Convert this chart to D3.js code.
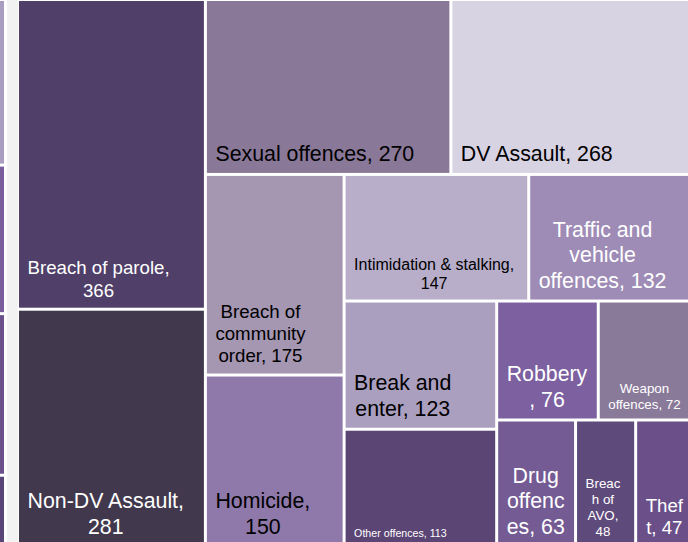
<!DOCTYPE html>
<html>
<head>
<meta charset="utf-8">
<script src="https://cdn.jsdelivr.net/npm/d3@7"></script>
<style>
  body { margin: 0; background: #fff; }
  svg { display: block; font-family: "Liberation Sans", Arial, sans-serif; }
</style>
</head>
<body>
<div id="chart"></div>
<script>
// offence categories and counts, largest first
var offences = ["Breach of parole", "Non-DV Assault", "Sexual offences", "DV Assault",
  "Breach of community order", "Homicide", "Intimidation & stalking",
  "Traffic and vehicle offences", "Break and enter", "Other offences", "Robbery",
  "Weapon offences", "Drug offences", "Breach of AVO", "Theft"];
var counts = [366, 281, 270, 268, 175, 150, 147, 132, 123, 113, 76, 72, 63, 48, 47];

// neighbouring group on the left, only a sliver of it is in view
var sideCells = ["a", "b", "c", "d"];
var sideCounts = [165, 148, 161, 73];

// styles
var fills = {
  "Breach of parole": "#503f69",
  "Non-DV Assault": "#41384d",
  "Sexual offences": "#8a7899",
  "DV Assault": "#d8d3e2",
  "Breach of community order": "#a596b2",
  "Homicide": "#8f78aa",
  "Intimidation & stalking": "#b8aeca",
  "Traffic and vehicle offences": "#9e8cb6",
  "Break and enter": "#ab9fbf",
  "Other offences": "#5b4574",
  "Robbery": "#7c60a0",
  "Weapon offences": "#8a7a9a",
  "Drug offences": "#745b94",
  "Breach of AVO": "#5f4a7c",
  "Theft": "#6b4f89"
};
var sideFills = ["#a99dc1", "#7b5e9e", "#6b518b", "#5a4578"];
var fontSizes = {
  "Breach of parole": 18.67, "Non-DV Assault": 21.33, "Sexual offences": 21.33,
  "DV Assault": 21.33, "Breach of community order": 18.67, "Homicide": 21.33,
  "Intimidation & stalking": 16, "Traffic and vehicle offences": 21.33,
  "Break and enter": 21.33, "Other offences": 10.67, "Robbery": 21.33,
  "Weapon offences": 13.33, "Drug offences": 21.33, "Breach of AVO": 13.33, "Theft": 18.67
};
var blackText = ["Sexual offences", "DV Assault", "Breach of community order", "Homicide",
  "Intimidation & stalking", "Break and enter"];

var w = 688, h = 542;

var svg = d3.select("#chart").append("svg")
  .attr("width", w)
  .attr("height", h);

// grey gutter between the two groups
svg.append("rect")
  .attr("x", 7).attr("y", 0)
  .attr("width", 11).attr("height", h)
  .attr("fill", "#f2f2f2");

// left group: one visible strip
var side = d3.hierarchy({children: sideCells.map(function(n, i) { return {name: n, value: sideCounts[i]}; })})
  .sum(function(d) { return d.value; });
d3.treemap().tile(d3.treemapSlice).size([44, 546]).paddingInner(3)(side);

svg.append("g")
  .attr("transform", "translate(-40,1)")
  .selectAll("rect")
  .data(side.leaves())
  .enter()
  .append("rect")
  .attr("x", function(d) { return d.x0; })
  .attr("y", function(d) { return d.y0; })
  .attr("width", function(d) { return d.x1 - d.x0; })
  .attr("height", function(d) { return d.y1 - d.y0; })
  .attr("fill", function(d, i) { return sideFills[i]; });

// squarified rows, the last few items share one strip along the long side
function tile(parent, x0, y0, x1, y1) {
  var nodes = parent.children, i0 = 0, rest = parent.value;
  while (i0 < nodes.length) {
    var dx = x1 - x0, dy = y1 - y0;
    if (nodes.length - i0 <= 3) {
      var last = {children: nodes.slice(i0), value: rest};
      (dx >= dy ? d3.treemapDice : d3.treemapSlice)(last, x0, y0, x1, y1);
      break;
    }
    var side = Math.min(dx, dy), unit = dx * dy / rest;
    var sum = 0, best = Infinity, i1 = i0;
    while (i1 < nodes.length) {
      var s = sum + nodes[i1].value, thick = s * unit / side, worst = 0;
      for (var k = i0; k <= i1; k++) {
        var len = nodes[k].value * unit / thick;
        worst = Math.max(worst, len / thick, thick / len);
      }
      if (worst > best) break;
      best = worst; sum = s; i1++;
    }
    var row = {children: nodes.slice(i0, i1), value: sum};
    if (dx < dy) {
      var rh = dy * sum / rest;
      d3.treemapDice(row, x0, y0, x1, y0 + rh);
      y0 += rh;
    } else {
      var rw = dx * sum / rest;
      d3.treemapSlice(row, x0, y0, x0 + rw, y1);
      x0 += rw;
    }
    rest -= sum; i0 = i1;
  }
}

var root = d3.hierarchy({children: offences.map(function(n, i) { return {name: n, value: counts[i]}; })})
  .sum(function(d) { return d.value; })
  .sort(function(a, b) { return b.value - a.value; });

d3.treemap().tile(tile).size([674, 544.5]).paddingInner(3)(root);

var main = svg.append("g").attr("transform", "translate(19,1)");

var cell = main.selectAll("g")
  .data(root.leaves())
  .enter()
  .append("g");

cell.append("rect")
  .attr("x", function(d) { return d.x0; })
  .attr("y", function(d) { return d.y0; })
  .attr("width", function(d) { return d.x1 - d.x0; })
  .attr("height", function(d) { return d.y1 - d.y0; })
  .attr("fill", function(d) { return fills[d.data.name]; });

// word wrap; words that are too long get broken between characters
var ruler = svg.append("text").attr("visibility", "hidden");
function measure(str, fs) {
  ruler.attr("font-size", fs).text(str);
  return ruler.node().getComputedTextLength();
}
function wrap(str, fs, maxW) {
  var words = str.split(" "), lines = [], line = "";
  words.forEach(function(word) {
    var test = line ? line + " " + word : word;
    if (measure(test, fs) <= maxW) { line = test; return; }
    if (line) lines.push(line);
    line = "";
    if (measure(word, fs) <= maxW) { line = word; return; }
    for (var c = 0; c < word.length; c++) {
      var t = line + word[c];
      if (measure(t, fs) <= maxW || !line) line = t;
      else { lines.push(line); line = word[c]; }
    }
  });
  if (line) lines.push(line);
  return lines;
}

cell.each(function(d) {
  var name = d.data.name, fs = fontSizes[name];
  var lines = wrap(name + ", " + d.data.value, fs, d.x1 - d.x0 - 16);
  var widths = lines.map(function(l) { return measure(l, fs); });
  var cx = d.x0 + 8.5 + d3.max(widths) / 2;
  var lh = fs * 1.2;
  var base = d.y1 - 6 - fs * 0.27;
  d3.select(this).selectAll("text")
    .data(lines)
    .enter()
    .append("text")
    .attr("x", cx)
    .attr("y", function(l, i) { return base - (lines.length - 1 - i) * lh; })
    .attr("text-anchor", "middle")
    .attr("font-size", fs)
    .attr("fill", blackText.indexOf(name) >= 0 ? "#000" : "#fff")
    .text(function(l) { return l; });
});
ruler.remove();
</script>
</body>
</html>
